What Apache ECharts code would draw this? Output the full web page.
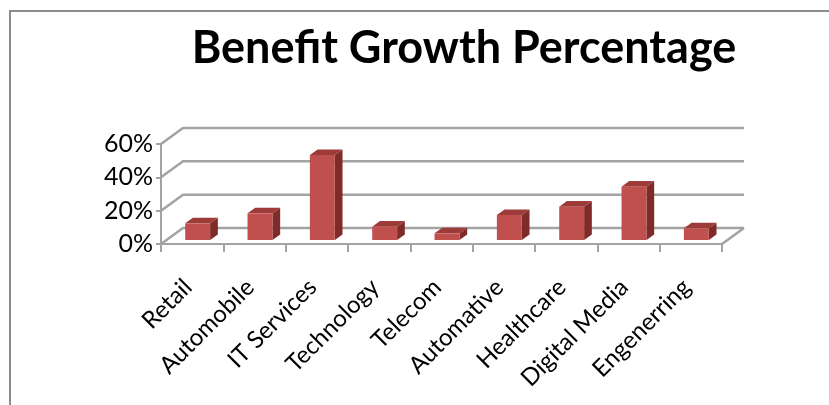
<!DOCTYPE html>
<html>
<head>
<meta charset="utf-8">
<script src="https://cdn.jsdelivr.net/npm/echarts@6/dist/echarts.min.js"></script>
<style>
  html, body { margin: 0; padding: 0; background: #ffffff; }
  #chart { width: 829px; height: 405px; }
</style>
</head>
<body>
<div id="chart"></div>
<script>
// Industry categories and their benefit growth (fractions of 1)
const categories = ['Retail', 'Automobile', 'IT Services', 'Technology', 'Telecom', 'Automative', 'Healthcare', 'Digital Media', 'Engenerring'];
const growthValues = [0.10, 0.16, 0.51, 0.08, 0.04, 0.15, 0.20, 0.32, 0.07];
const yTickValues = [0, 0.2, 0.4, 0.6];
const chartTitle = 'Benefit Growth Percentage';

// Pseudo-3D projection: how far the back wall sits from the front plane (px)
const DEPTH_X = 22;
const DEPTH_Y = -16;
// Bars stand between these fractions of the floor depth
const BAR_FRONT = 0.25;
const BAR_DEPTH = 0.35;
const BAR_WIDTH_RATIO = 0.4;

const GRID_COLOR = '#a3a3a3';
const FONT = 'Lato, "Open Sans", sans-serif';

const chart = echarts.init(document.getElementById('chart'), null, { renderer: 'canvas' });

function renderWalls(params, api) {
  const v = api.value(1);
  const cs = params.coordSys;
  const x0 = cs.x;
  const x1 = cs.x + cs.width;
  const y = api.coord([0, v])[1];
  const children = [{
    type: 'polyline',
    shape: { points: [[x0, y], [x0 + DEPTH_X, y + DEPTH_Y], [x1 + DEPTH_X, y + DEPTH_Y]] },
    style: { stroke: GRID_COLOR, lineWidth: 2.5, fill: null }
  }];
  if (v === 0) {
    // right edge of the floor
    children.push({
      type: 'line',
      shape: { x1: x1, y1: y, x2: x1 + DEPTH_X, y2: y + DEPTH_Y },
      style: { stroke: GRID_COLOR, lineWidth: 2.5 }
    });
  }
  return { type: 'group', children: children };
}

function renderBar(params, api) {
  const idx = api.value(0);
  const val = api.value(1);
  const base = api.coord([idx, 0]);
  const top = api.coord([idx, val]);
  const band = api.size([1, 0])[0];
  const w = band * BAR_WIDTH_RATIO;
  const fx = base[0] + BAR_FRONT * DEPTH_X - w / 2;
  const by = base[1] + BAR_FRONT * DEPTH_Y;
  const ty = top[1] + BAR_FRONT * DEPTH_Y;
  const dx = BAR_DEPTH * DEPTH_X;
  const dy = BAR_DEPTH * DEPTH_Y;
  return {
    type: 'group',
    children: [
      {
        type: 'polygon',
        shape: { points: [[fx + w, ty], [fx + w + dx, ty + dy], [fx + w + dx, by + dy], [fx + w, by]] },
        style: { fill: '#7e2b29' }
      },
      {
        type: 'polygon',
        shape: { points: [[fx, ty], [fx + w, ty], [fx + w + dx, ty + dy], [fx + dx, ty + dy]] },
        style: { fill: '#9d3b38' }
      },
      {
        type: 'rect',
        shape: { x: fx, y: ty, width: w, height: by - ty },
        style: { fill: '#c0504d' }
      }
    ]
  };
}

chart.setOption({
  animation: false,
  backgroundColor: '#ffffff',
  title: {
    text: chartTitle,
    left: 459,
    top: 21,
    textAlign: 'center',
    textStyle: { fontFamily: FONT, fontWeight: 'bold', fontSize: 45, color: '#000000' }
  },
  graphic: [{
    type: 'rect',
    shape: { x: 10, y: 11, width: 900, height: 500 },
    style: { fill: null, stroke: '#8c8c8c', lineWidth: 2 },
    silent: true
  }],
  grid: { left: 161, right: 107, top: 144, bottom: 161, containLabel: false },
  xAxis: {
    type: 'category',
    data: categories,
    boundaryGap: true,
    axisLine: { show: true, lineStyle: { color: GRID_COLOR, width: 2 } },
    axisTick: { show: true, length: 8, lineStyle: { color: GRID_COLOR, width: 2 } },
    axisLabel: {
      rotate: 45,
      margin: 35,
      interval: 0,
      padding: [0, 6, 0, 0],
      fontFamily: FONT,
      fontSize: 24,
      color: '#000000'
    },
    splitLine: { show: false }
  },
  yAxis: {
    type: 'value',
    min: 0,
    max: 0.6,
    interval: 0.2,
    axisLine: { show: true, lineStyle: { color: GRID_COLOR, width: 2 } },
    axisTick: { show: true, length: 5, lineStyle: { color: GRID_COLOR, width: 2 } },
    axisLabel: {
      margin: 8,
      fontFamily: FONT,
      fontSize: 25,
      color: '#000000',
      padding: [10, 0, 0, 0],
      formatter: function (v) { return Math.round(v * 100) + '%'; }
    },
    splitLine: { show: false }
  },
  series: [
    {
      type: 'custom',
      name: 'walls',
      renderItem: renderWalls,
      data: yTickValues.map(function (v) { return [0, v]; }),
      z: 1,
      silent: true
    },
    {
      type: 'custom',
      name: 'Benefit Growth',
      renderItem: renderBar,
      data: growthValues.map(function (v, i) { return [i, v]; }),
      z: 2
    }
  ]
});
</script>
</body>
</html>
